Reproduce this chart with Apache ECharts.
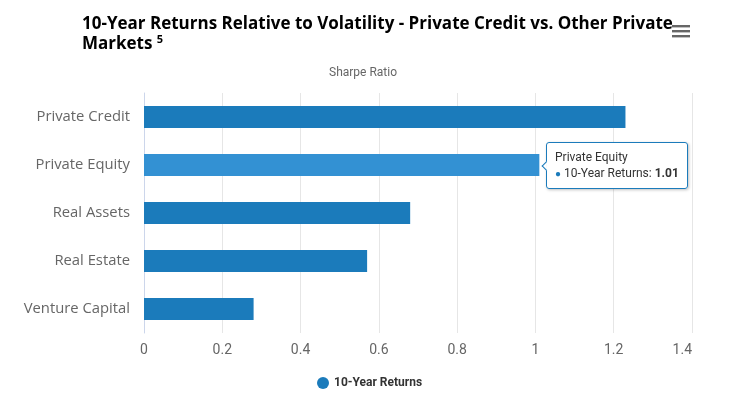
<!DOCTYPE html>
<html>
<head>
  <meta charset="utf-8">
  <title>10-Year Returns Relative to Volatility</title>
  <script src="https://cdn.jsdelivr.net/npm/echarts@6/dist/echarts.min.js"></script>
  <style>
    html, body { margin: 0; padding: 0; background: #fff; }
  </style>
</head>
<body>
  <div id="main" style="width: 751px;height:401px;"></div>
  <script type="text/javascript">
    // data
    var categories = ['Private Credit', 'Private Equity', 'Real Assets', 'Real Estate', 'Venture Capital']
    var sharpeValues = [1.23, 1.01, 0.68, 0.57, 0.28]
    var seriesName = '10-Year Returns'
    var tipIndex = 1 // tooltip shown on Private Equity

    var barColor = '#1b7bbb'
    var hoverColor = '#3391d3'
    var font = 'Roboto, "Open Sans", sans-serif'
    var wideFont = '"Open Sans", Roboto, sans-serif'

    var myChart = echarts.init(document.getElementById('main'))

    myChart.setOption({
      animation: false,
      backgroundColor: '#ffffff',
      title: {
        text: '10-Year Returns Relative to Volatility - Private Credit vs. Other Private\nMarkets {sup|5}',
        left: 77,
        top: 9,
        textStyle: {
          fontFamily: wideFont,
          fontSize: 17,
          fontWeight: 'bold',
          color: '#000000',
          lineHeight: 20,
          rich: {
            sup: { fontFamily: wideFont, fontSize: 11, fontWeight: 'bold', color: '#000', verticalAlign: 'top', lineHeight: 20, padding: [0, 0, 7, 0] }
          }
        }
      },
      graphic: [
        // title for the value axis ("Sharpe Ratio")
        {
          type: 'text',
          left: 329,
          top: 67,
          style: { text: 'Sharpe Ratio', fontFamily: font, fontSize: 12, fill: '#666666' }
        },
        // menu icon
        { type: 'rect', shape: { x: 672, y: 25, width: 18, height: 2.4 }, style: { fill: '#666666' } },
        { type: 'rect', shape: { x: 672, y: 30, width: 18, height: 2.4 }, style: { fill: '#666666' } },
        { type: 'rect', shape: { x: 672, y: 35, width: 18, height: 2.4 }, style: { fill: '#666666' } }
      ],
      legend: {
        bottom: 7,
        left: 312,
        icon: 'circle',
        itemWidth: 12,
        itemHeight: 12,
        itemGap: 8,
        textStyle: { fontFamily: font, fontSize: 12, fontWeight: 'bold', color: '#333333' },
        data: [seriesName]
      },
      tooltip: {
        trigger: 'item',
        position: 'right',
        backgroundColor: 'rgba(255,255,255,0.97)',
        borderColor: barColor,
        borderWidth: 1,
        borderRadius: 3,
        padding: [6, 8],
        extraCssText: 'box-shadow: 1px 1px 3px rgba(0,0,0,0.25); margin-left:-3px;',
        textStyle: { fontFamily: font, fontSize: 12, color: '#333333' },
        formatter: function (params) {
          return '<div style="line-height:16px">' + params.name + '<br/>' +
            '<span style="color:' + barColor + ';font-size:10px">\u25CF</span> ' +
            params.seriesName + ': <b>' + params.value + '</b></div>'
        }
      },
      grid: {
        left: 144,
        right: 59,
        top: 93,
        bottom: 68
      },
      xAxis: {
        type: 'value',
        min: 0,
        max: 1.4,
        interval: 0.2,
        axisLine: { show: false },
        axisTick: { show: false },
        splitLine: { lineStyle: { color: '#e6e6e6', width: 1 } },
        axisLabel: {
          margin: 10,
          fontFamily: font,
          fontSize: 14,
          color: '#666666',
          alignMaxLabel: 'right'
        }
      },
      yAxis: {
        type: 'category',
        inverse: true,
        data: categories,
        axisLine: { show: true, lineStyle: { color: '#ccd6eb', width: 1 } },
        axisTick: { show: false },
        splitLine: { show: false },
        axisLabel: {
          margin: 14,
          fontFamily: wideFont,
          fontSize: 14.8,
          color: '#666666'
        }
      },
      series: [{
        name: seriesName,
        type: 'bar',
        barWidth: 22,
        itemStyle: { color: barColor },
        emphasis: { itemStyle: { color: hoverColor } },
        data: sharpeValues
      }]
    })

    myChart.dispatchAction({ type: 'highlight', seriesIndex: 0, dataIndex: tipIndex })
    myChart.dispatchAction({ type: 'showTip', seriesIndex: 0, dataIndex: tipIndex })
  </script>
</body>
</html>
